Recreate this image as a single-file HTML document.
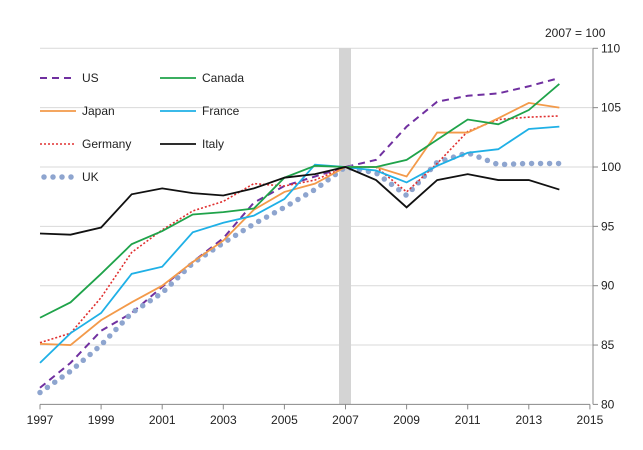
<!DOCTYPE html>
<html><head><meta charset="utf-8"><style>
body{margin:0;background:#fff;font-family:"Liberation Sans",Arial,sans-serif}
svg text{font-family:"Liberation Sans",Arial,sans-serif;font-size:12px;fill:#222}
</style></head><body>
<svg id="chart" width="643" height="445">
<g id="grid"></g>
<rect x="339" y="48" width="12" height="356" fill="#d4d4d4"/>
<g id="axes"></g>
<g id="series"></g>
<text x="545" y="37">2007 = 100</text>
<g id="legend"></g>
</svg>
<script>
const years=[1997,1998,1999,2000,2001,2002,2003,2004,2005,2006,2007,2008,2009,2010,2011,2012,2013,2014];
const xTicks=[1997,1999,2001,2003,2005,2007,2009,2011,2013,2015];
const yTicks=[80,85,90,95,100,105,110];
const us=[81.4,83.5,86.2,87.7,89.9,92.0,94.0,97.0,98.4,99.2,100,100.6,103.4,105.5,106.0,106.2,106.8,107.5];
const canada=[87.3,88.6,91.0,93.5,94.6,96.0,96.2,96.5,99.1,100.1,100,100,100.6,102.3,104.0,103.6,104.8,107.0];
const japan=[85.1,85.0,87.1,88.6,90.0,92.0,93.8,96.4,97.9,98.6,100,100,99.2,102.9,102.9,104.1,105.4,105.0];
const france=[83.5,86.0,87.7,91.0,91.6,94.5,95.3,95.9,97.3,100.2,100,99.7,98.7,100.1,101.2,101.5,103.2,103.4];
const germany=[85.2,86.0,89.0,92.8,94.7,96.3,97.1,98.6,98.4,98.9,100,100,97.9,100.3,103.0,104.0,104.2,104.3];
const italy=[94.4,94.3,94.9,97.7,98.2,97.8,97.6,98.2,99.1,99.4,100,98.9,96.6,98.9,99.4,98.9,98.9,98.1];
const uk=[81.0,82.8,85.0,87.7,89.4,91.9,93.6,95.2,96.6,98.1,100,99.5,97.6,100.4,101.2,100.2,100.3,100.3];
const X=y=>40+(y-1997)*30.55;
const Y=v=>167-(v-100)*11.87;
const NS="http://www.w3.org/2000/svg";
function mk(tag,attrs,parent){const e=document.createElementNS(NS,tag);for(const k in attrs)e.setAttribute(k,attrs[k]);parent.appendChild(e);return e;}
const grid=document.getElementById('grid'),axes=document.getElementById('axes'),ser=document.getElementById('series'),leg=document.getElementById('legend');
yTicks.forEach(v=>{
 if(v>80){const l=mk('line',{x1:40,x2:593,y1:Y(v),y2:Y(v),stroke:'#d9d9d9','stroke-width':1},grid);
 
 }
 const t=mk('line',{x1:593,x2:598,y1:Y(v),y2:Y(v),stroke:'#888'},axes);
 
 
 const tx=mk('text',{x:601,y:Y(v)+4},axes);tx.textContent=v;
 
 
});
const ya=mk('line',{x1:593,x2:593,y1:Y(110),y2:Y(80),stroke:'#888'},axes);


const xa=mk('line',{x1:40,x2:X(2015),y1:Y(80),y2:Y(80),stroke:'#888'},axes);


xTicks.forEach(yr=>{
 const t=mk('line',{x1:X(yr),x2:X(yr),y1:Y(80),y2:Y(80)+5,stroke:'#888'},axes);
 
 
 const tx=mk('text',{x:X(yr),y:424,'text-anchor':'middle'},axes);tx.textContent=yr;
 
 
});
const defs=[
 ['us',us,'#7030a0',{'stroke-width':2,'stroke-dasharray':'7 5'}],
 ['uk',uk,'#8ea5cf',{'stroke-width':5.5,'stroke-dasharray':'0 9','stroke-linecap':'round'}],
 ['germany',germany,'#e03030',{'stroke-width':1.6,'stroke-dasharray':'2 2'}],
 ['japan',japan,'#f39a4a',{'stroke-width':1.8}],
 ['france',france,'#1fb0e6',{'stroke-width':1.8}],
 ['canada',canada,'#1fa34a',{'stroke-width':1.8}],
 ['italy',italy,'#111',{'stroke-width':1.8}]
];
defs.forEach(([n,d,c,st])=>{
 const p=mk('polyline',Object.assign({points:d.map((v,i)=>X(years[i])+','+Y(v)).join(' '),fill:'none',stroke:c},st),ser);
 
 
});
const legItems=[['US','#7030a0',{'stroke-width':2,'stroke-dasharray':'7 5'},40,78],['Canada','#1fa34a',{'stroke-width':1.8},160,78],
['Japan','#f39a4a',{'stroke-width':1.8},40,111],['France','#1fb0e6',{'stroke-width':1.8},160,111],
['Germany','#e03030',{'stroke-width':1.6,'stroke-dasharray':'2 2'},40,144],['Italy','#111',{'stroke-width':1.8},160,144],
['UK','#8ea5cf',{'stroke-width':5.5,'stroke-dasharray':'0 9','stroke-linecap':'round'},44,177]];
legItems.forEach(([n,c,st,x,y])=>{
 const g=mk('g',{},leg);
 
 
 mk('line',Object.assign({x1:x,x2:x+36,y1:y,y2:y,stroke:c},st),g);
 const t=mk('text',{x:x+(n==='UK'?38:42),y:y+4},g);t.textContent=n;
});
</script>
</body></html>
